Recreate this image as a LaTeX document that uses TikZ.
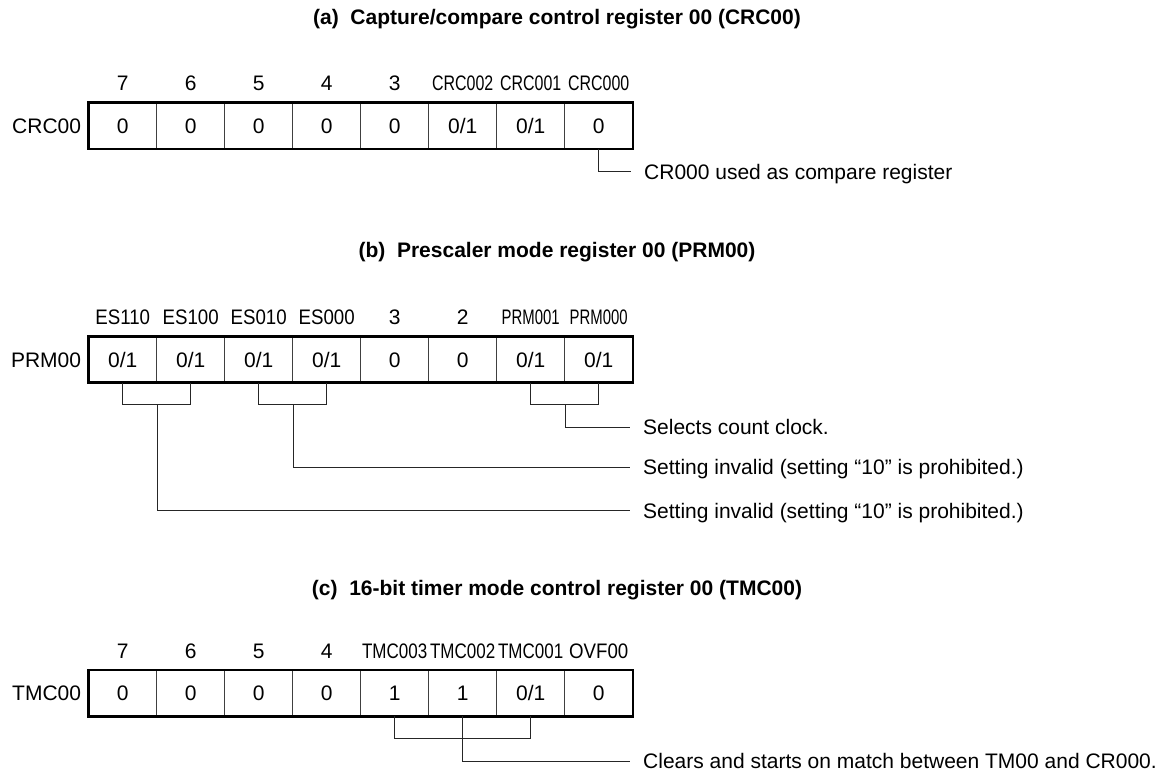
\documentclass[tikz,border=0pt]{standalone}
\usepackage{fontspec}
\setmainfont{Liberation Sans}
\usepackage{graphicx}
\usepackage{tikz}
\usetikzlibrary{calc}

% narrow bit names so they fit over one cell
\newcommand{\narrowtext}[2]{\scalebox{#1}[1]{#2}}

\begin{document}
\begin{tikzpicture}[
  x=1pt, y=-1pt,
  every node/.style={font=\fontsize{21}{25}\selectfont},
  cell/.style={draw=black!75, line width=0.9pt, minimum width=68pt,
               minimum height=45.5pt, inner sep=0pt,
               text height=15pt, text depth=0pt},
  bitname/.style={inner sep=0pt, yshift=19.5pt,
                  text height=15pt, text depth=0pt},
  regname/.style={anchor=east, inner sep=0pt, xshift=-7pt,
                  text height=15pt, text depth=0pt},
  title/.style={font=\fontsize{21}{25}\selectfont\bfseries, inner sep=0pt},
  note/.style={anchor=west, inner xsep=13pt, inner ysep=0pt,
               text height=15pt, text depth=0pt},
  link/.style={draw=black!85, line width=0.9pt},
  frame/.style={draw=black, line width=2.6pt},
]
  \useasboundingbox (0,0) rectangle (1169,775);

  %% (a) CRC00
  \node[title](titleA) at (557,19)
    {(a)\ \ Capture/compare control register 00 (CRC00)};
  \foreach \v [count=\i] in {0,0,0,0,0,0/1,0/1,0}
    \node[cell](a\i) at (54.7+68*\i,126) {\v};
  \foreach \n [count=\i] in {7,6,5,4,3,\narrowtext{.76}{CRC002},
                             \narrowtext{.76}{CRC001},\narrowtext{.76}{CRC000}}
    \node[bitname](bitA\i) at (a\i.north) {\n};
  \node[regname](regA) at (a1.west) {CRC00};
  \draw[frame] (a1.north west) rectangle (a8.south east);

  \node[note](noteA) at (631,171.7) {CR000 used as compare register};
  \draw[link] (a8.south) |- (noteA.west);

  %% (b) PRM00
  \node[title](titleB) at (557,252)
    {(b)\ \ Prescaler mode register 00 (PRM00)};
  \foreach \v [count=\i] in {0/1,0/1,0/1,0/1,0,0,0/1,0/1}
    \node[cell](b\i) at (54.7+68*\i,359.5) {\v};
  \foreach \n [count=\i] in {\narrowtext{.89}{ES110},\narrowtext{.89}{ES100},
                             \narrowtext{.89}{ES010},\narrowtext{.89}{ES000},3,2,
                             \narrowtext{.71}{PRM001},\narrowtext{.71}{PRM000}}
    \node[bitname](bitB\i) at (b\i.north) {\n};
  \node[regname](regB) at (b1.west) {PRM00};
  \draw[frame] (b1.north west) rectangle (b8.south east);

  \node[note](noteB1) at (630,427) {Selects count clock.};
  \node[note](noteB2) at (630,467.3)
    {Setting invalid (setting “10” is prohibited.)};
  \node[note](noteB3) at (630,510.7)
    {Setting invalid (setting “10” is prohibited.)};

  \draw[link] (b7.south) -- ++(0,22) -| (b8.south);
  \draw[link] (b7.south east) ++(0,22) |- (noteB1.west);
  \draw[link] (b3.south) -- ++(0,22) -| (b4.south);
  \draw[link] (b3.south east) ++(0,22) |- (noteB2.west);
  \draw[link] (b1.south) -- ++(0,22) -| (b2.south);
  \draw[link] (b1.south east) ++(0,22) |- (noteB3.west);

  %% (c) TMC00
  \node[title](titleC) at (557,590)
    {(c)\ \ 16-bit timer mode control register 00 (TMC00)};
  \foreach \v [count=\i] in {0,0,0,0,1,1,0/1,0}
    \node[cell](c\i) at (54.7+68*\i,693.2) {\v};
  \foreach \n [count=\i] in {7,6,5,4,\narrowtext{.81}{TMC003},
                             \narrowtext{.81}{TMC002},\narrowtext{.81}{TMC001},
                             \narrowtext{.89}{OVF00}}
    \node[bitname](bitC\i) at (c\i.north) {\n};
  \node[regname](regC) at (c1.west) {TMC00};
  \draw[frame] (c1.north west) rectangle (c8.south east);

  \node[note](noteC) at (630,761)
    {Clears and starts on match between TM00 and CR000.};
  \draw[link] (c5.south) -- ++(0,22.3) -| (c7.south);
  \draw[link] (c6.south) |- (noteC.west);
\end{tikzpicture}
\end{document}
